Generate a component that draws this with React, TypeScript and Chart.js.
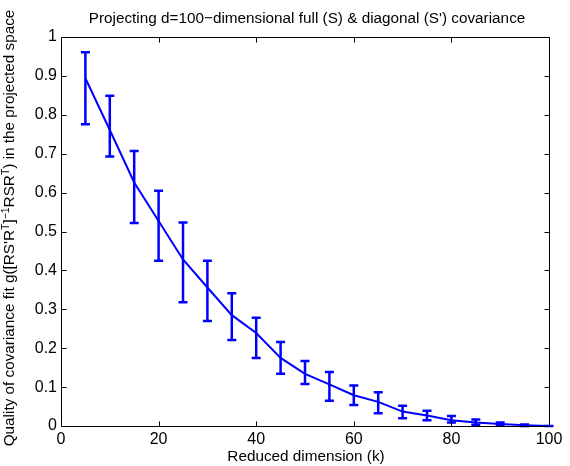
import React, { useEffect, useRef } from "react";
import { Chart, registerables } from "chart.js";

Chart.register(...registerables);

const dims = [5, 10, 15, 20, 25, 30, 35, 40, 45, 50, 55, 60, 65, 70, 75, 80, 85, 90, 95, 100];
const meanFit = [0.894, 0.761, 0.626, 0.527, 0.428, 0.356, 0.285, 0.239, 0.175, 0.134, 0.107, 0.079, 0.062, 0.037, 0.027, 0.015, 0.009, 0.005, 0.002, 0.0];
const upperFit = [0.961, 0.849, 0.707, 0.605, 0.523, 0.425, 0.341, 0.278, 0.216, 0.167, 0.139, 0.104, 0.087, 0.052, 0.039, 0.026, 0.017, 0.009, 0.004, 0.0];
const lowerFit = [0.776, 0.693, 0.522, 0.425, 0.318, 0.27, 0.221, 0.175, 0.134, 0.108, 0.065, 0.054, 0.033, 0.02, 0.015, 0.009, 0.003, 0.002, 0.0, 0.0];
const yTickLabels = ["0", "0.1", "0.2", "0.3", "0.4", "0.5", "0.6", "0.7", "0.8", "0.9", "1"];

const titleText = "Projecting d=100\u2212dimensional full (S) & diagonal (S') covariance";
const xLabel = "Reduced dimension (k)";
// y label as segments: [text, superscript?]
const yLabelParts: [string, boolean][] = [
  ["Quality of covariance fit g([RS'R", false],
  ["T", true],
  ["]", false],
  ["\u22121", true],
  ["RSR", false],
  ["T", true],
  [") in the projected space", false],
];

const FONT = "'Liberation Sans', Arial, Helvetica, sans-serif";
const BLUE = "#0000ff";
const TXT = 15.3;

const decorPlugin = {
  id: "decor",
  afterDatasetsDraw(chart: any) {
    const ctx = chart.ctx;
    const xs = chart.scales.x;
    const ys = chart.scales.y;
    const area = chart.chartArea;
    // error bars
    ctx.save();
    ctx.strokeStyle = BLUE;
    ctx.lineWidth = 2.5;
    ctx.lineCap = "butt";
    for (let i = 0; i < dims.length; i++) {
      const x = xs.getPixelForValue(dims[i]);
      const yt = ys.getPixelForValue(upperFit[i]);
      const yb = ys.getPixelForValue(lowerFit[i]);
      ctx.beginPath();
      ctx.moveTo(x, yt);
      ctx.lineTo(x, yb);
      ctx.moveTo(x - 4.5, yt);
      ctx.lineTo(x + 4.5, yt);
      ctx.moveTo(x - 4.5, yb);
      ctx.lineTo(x + 4.5, yb);
      ctx.stroke();
    }
    ctx.restore();

    // box and inward ticks
    ctx.save();
    ctx.strokeStyle = "#000";
    ctx.lineWidth = 1;
    const L = Math.round(area.left) + 0.5;
    const R = Math.round(area.right) + 0.5;
    const T = Math.round(area.top) + 0.5;
    const B = Math.round(area.bottom) + 0.5;
    ctx.beginPath();
    ctx.rect(L, T, R - L, B - T);
    const tl = 5;
    for (const t of xs.ticks) {
      const x = Math.round(xs.getPixelForValue(t.value)) + 0.5;
      ctx.moveTo(x, B);
      ctx.lineTo(x, B - tl);
      ctx.moveTo(x, T);
      ctx.lineTo(x, T + tl);
    }
    for (const t of ys.ticks) {
      const y = Math.round(ys.getPixelForValue(t.value)) + 0.5;
      ctx.moveTo(L, y);
      ctx.lineTo(L + tl, y);
      ctx.moveTo(R, y);
      ctx.lineTo(R - tl, y);
    }
    ctx.stroke();
    ctx.restore();

    // title
    ctx.save();
    ctx.fillStyle = "#000";
    ctx.font = `${TXT}px ${FONT}`;
    ctx.textAlign = "center";
    ctx.textBaseline = "alphabetic";
    ctx.fillText(titleText, (area.left + area.right) / 2 + 2, 23);
    // x label
    ctx.fillText(xLabel, (area.left + area.right) / 2 + 1, 461);
    ctx.restore();

    // y label (rotated, with superscripts)
    ctx.save();
    const base = TXT;
    const sup = 10.5;
    let total = 0;
    for (const [s, isSup] of yLabelParts) {
      ctx.font = `${isSup ? sup : base}px ${FONT}`;
      total += ctx.measureText(s).width;
    }
    const cy = 228;
    ctx.translate(14, cy);
    ctx.rotate(-Math.PI / 2);
    ctx.fillStyle = "#000";
    ctx.textAlign = "left";
    ctx.textBaseline = "alphabetic";
    let pos = -total / 2;
    for (const [s, isSup] of yLabelParts) {
      ctx.font = `${isSup ? sup : base}px ${FONT}`;
      ctx.fillText(s, pos, isSup ? -5.5 : 0);
      pos += ctx.measureText(s).width;
    }
    ctx.restore();
  },
};

export default function App() {
  const ref = useRef<HTMLCanvasElement | null>(null);
  useEffect(() => {
    if (!ref.current) return;
    const chart = new Chart(ref.current, {
      type: "line",
      data: {
        datasets: [
          {
            data: dims.map((k, i) => ({ x: k, y: meanFit[i] })),
            borderColor: BLUE,
            borderWidth: 2,
            pointRadius: 0,
            tension: 0,
            fill: false,
          },
        ],
      },
      options: {
        responsive: false,
        animation: false,
        events: [],
        layout: { padding: { left: 0, top: 37, right: 21, bottom: 0 } },
        plugins: { legend: { display: false }, tooltip: { enabled: false }, title: { display: false } },
        scales: {
          x: {
            type: "linear",
            min: 0,
            max: 100,
            afterFit: (s: any) => { s.height = 40; },
            grid: { display: false, drawTicks: false },
            border: { display: false },
            ticks: { stepSize: 20, padding: 4, color: "#000", font: { family: FONT, size: 16 }, maxRotation: 0 },
          },
          y: {
            type: "linear",
            min: 0,
            max: 1,
            afterFit: (s: any) => { s.width = 61; },
            grid: { display: false, drawTicks: false },
            border: { display: false },
            ticks: {
              stepSize: 0.1,
              padding: 4,
              color: "#000",
              font: { family: FONT, size: 16 },
              callback: (_v: any, i: number) => yTickLabels[i],
            },
          },
        },
      },
      plugins: [decorPlugin],
    });
    return () => chart.destroy();
  }, []);
  return (
    <div style={{ position: "fixed", left: 0, top: 0, width: 570, height: 466, background: "#fff" }}>
      <canvas ref={ref} width={570} height={466} style={{ display: "block" }} />
    </div>
  );
}
